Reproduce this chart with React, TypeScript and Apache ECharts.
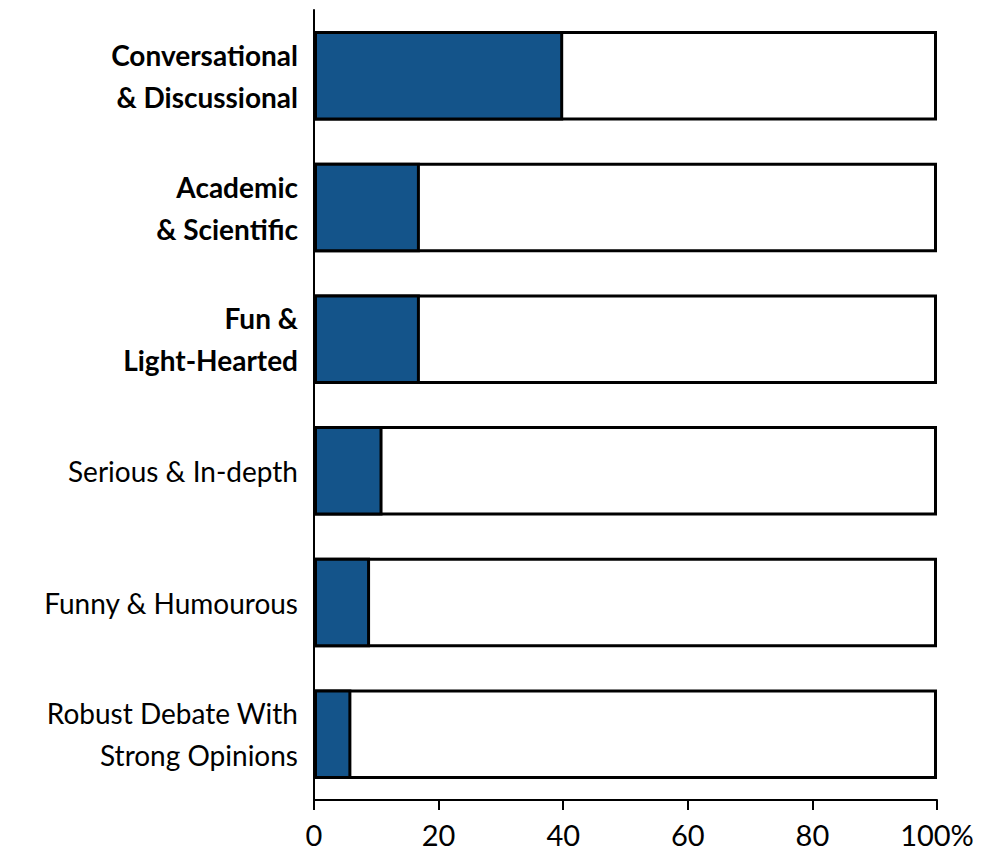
import React, { useEffect, useRef } from "react";
import * as echarts from "echarts";

const categories = [
  "Conversational\n& Discussional",
  "Academic\n& Scientific",
  "Fun &\nLight-Hearted",
  "Serious & In-depth",
  "Funny & Humourous",
  "Robust Debate With\nStrong Opinions",
];
const boldCategories = [true, true, true, false, false, false];
const shares = [40, 17, 17, 11, 9, 6];
const totals = [100, 100, 100, 100, 100, 100];
const xTicks = [0, 20, 40, 60, 80, 100];

const FONT = "Lato, 'Noto Sans', sans-serif";

export default function App() {
  const ref = useRef<HTMLDivElement>(null);
  useEffect(() => {
    if (!ref.current) return;
    const chart = echarts.init(ref.current, undefined, { renderer: "svg" });
    chart.setOption({
      animation: false,
      backgroundColor: "#ffffff",
      grid: { left: 314, right: 61, top: 10, bottom: 54, containLabel: false },
      xAxis: {
        type: "value",
        min: xTicks[0],
        max: xTicks[xTicks.length - 1],
        interval: 20,
        axisLine: { show: true, lineStyle: { color: "#000", width: 2 } },
        axisTick: { show: true, length: 10, lineStyle: { color: "#000", width: 2 } },
        splitLine: { show: false },
        axisLabel: {
          color: "#000",
          fontSize: 29,
          fontFamily: FONT,
          margin: 20,
          formatter: (v: number) => (v === 100 ? "100%" : String(v)),
        },
      },
      yAxis: {
        type: "category",
        inverse: true,
        data: categories.map((c, i) => ({
          value: c,
          textStyle: { fontWeight: boldCategories[i] ? "bold" : "normal" },
        })),
        axisLine: { show: true, lineStyle: { color: "#000", width: 2 } },
        axisTick: { show: false },
        axisLabel: {
          color: "#000",
          fontSize: 28,
          fontFamily: FONT,
          lineHeight: 42,
          margin: 16,
          align: "right",
        },
      },
      series: [
        {
          type: "bar",
          data: totals,
          barWidth: "68%",
          itemStyle: { color: "#ffffff", borderColor: "#000", borderWidth: 3 },
          silent: true,
          z: 1,
        },
        {
          type: "bar",
          data: shares,
          barWidth: "68%",
          barGap: "-100%",
          itemStyle: { color: "#14548A", borderColor: "#000", borderWidth: 3 },
          z: 2,
        },
      ],
    });
    return () => chart.dispose();
  }, []);
  return <div ref={ref} style={{ width: 998, height: 854, margin: -8 }} />;
}
